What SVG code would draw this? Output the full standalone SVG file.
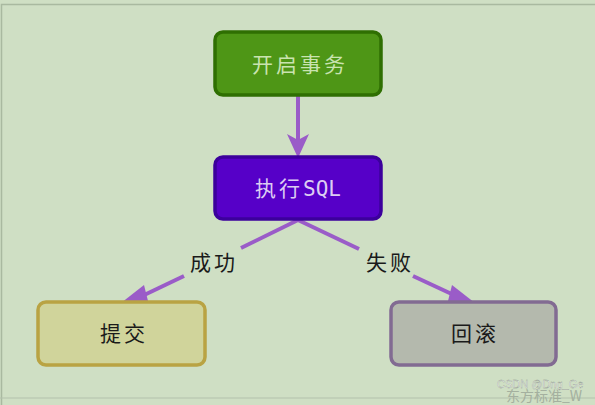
<svg xmlns="http://www.w3.org/2000/svg" width="595" height="405" viewBox="0 0 595 405">
<defs>
<style>
.lbl{font-family:"Liberation Serif","Noto Sans CJK SC",serif;font-size:21px;letter-spacing:3px;text-anchor:middle;dominant-baseline:central}
.sql{font-family:"DejaVu Sans Mono","Liberation Mono",monospace;letter-spacing:0}
.edge{stroke:#9a5cc8;stroke-width:4;fill:none}
.node rect{stroke-width:3.5}
</style>
</defs>
<rect x="0" y="0" width="595" height="405" fill="#cfdfc4"/>
<path d="M1.5 405 V4.5 H595" fill="none" stroke="#a9b9a0" stroke-width="1.5"/>
<line x1="0" y1="398" x2="595" y2="398" stroke="#b4c2ab" stroke-width="1.2"/>

<g id="connectors">
<line class="edge" x1="298" y1="96" x2="298" y2="140"/>
<polygon points="287,134 298,158 309,134 298,140" fill="#9a5cc8"/>
<path class="edge" d="M298 220 L241 248"/>
<path class="edge" d="M184 276 L140 297"/>
<polygon points="121,303 144,285 148,301" fill="#9a5cc8"/>
<path class="edge" d="M298 220 L359 249"/>
<path class="edge" d="M413 276 L456 296"/>
<polygon points="475,303 452,285 448,301" fill="#9a5cc8"/>
<text class="lbl" x="214" y="263" fill="#1a1a1a">成功</text>
<text class="lbl" x="390" y="263" fill="#1a1a1a">失败</text>
</g>

<g id="n-start" class="node">
<rect x="215" y="32" width="166" height="63" rx="8" fill="#4e9616" stroke="#2f6f02"/>
<text class="lbl" x="300" y="65" fill="#c9e3b0">开启事务</text>
</g>
<g id="n-exec" class="node">
<rect x="215" y="157" width="166" height="62" rx="8" fill="#5600c8" stroke="#3c009c"/>
<text class="lbl" x="298" y="189" fill="#dccdf2">执行<tspan class="sql">SQL</tspan></text>
</g>
<g id="n-commit" class="node">
<rect x="38" y="302" width="167" height="63" rx="8" fill="#d0d49b" stroke="#b9a343"/>
<text class="lbl" x="124" y="334" fill="#1a1a1a">提交</text>
</g>
<g id="n-rollback" class="node">
<rect x="391" y="302" width="165" height="63" rx="8" fill="#b4b9ad" stroke="#826b92"/>
<text class="lbl" x="475" y="334" fill="#1a1a1a">回滚</text>
</g>

<text x="506" y="401" font-family="Noto Sans CJK SC,sans-serif" font-size="14" fill="#9aa596" opacity="0.8">东方标准_W</text>
<text x="497" y="388" font-family="Liberation Sans,sans-serif" font-size="11" fill="#f4f6f2" stroke="#8a9488" stroke-width="0.3">CSDN @Dng_Ge</text>
</svg>
